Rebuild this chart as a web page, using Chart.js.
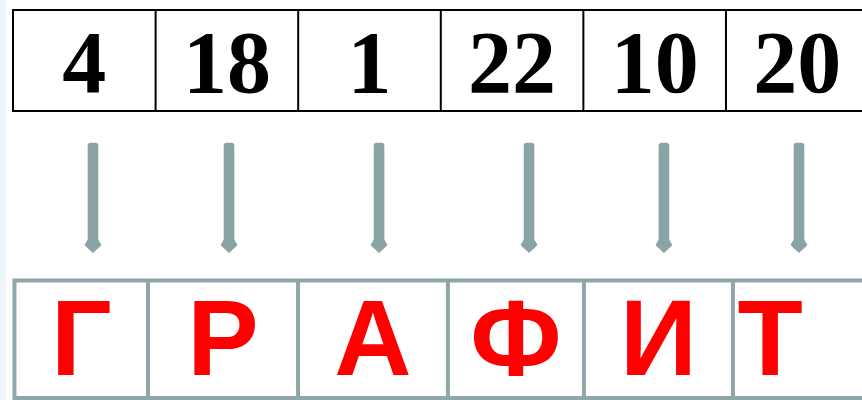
<!DOCTYPE html>
<html>
<head>
<meta charset="utf-8">
<script src="https://cdn.jsdelivr.net/npm/chart.js@4.4.1/dist/chart.umd.min.js"></script>
<style>
  html, body { margin: 0; padding: 0; background: #fff; }
  #wrap { width: 862px; height: 400px; }
</style>
</head>
<body>
<div id="wrap"><canvas id="cipher"></canvas></div>
<script>
const numbers = [4, 18, 1, 22, 10, 20];
const letters = ["Г", "Р", "А", "Ф", "И", "Т"];
// arrows sit a bit right of the cell centres (x in top-cell units)
const arrowX = [0.561, 1.515, 2.567, 3.619, 4.565, 5.512];
// the letter row is not as even as the number row
const letterEdges = [0.01, 0.947, 1.999, 3.05, 4.004, 5.049, 5.57];

const GRAY = "#8aa4a6";
const LINE_GRAY = "#90a7a9";

const tablePlugin = {
  id: "cipherTable",
  beforeDraw(chart) {
    const ctx = chart.ctx;
    ctx.save();
    ctx.fillStyle = "#fff";
    ctx.fillRect(0, 0, chart.width, chart.height);
    ctx.fillStyle = "#eef6f9";
    ctx.fillRect(0, 0, 6, chart.height);
    ctx.restore();
  },
  afterDatasetsDraw(chart) {
    const ctx = chart.ctx;
    const xs = chart.scales.x;
    const ys = chart.scales.y;
    const px = v => xs.getPixelForValue(v);
    const py = v => ys.getPixelForValue(v);
    const right = chart.chartArea.right;
    ctx.save();

    // arrow heads
    ctx.fillStyle = GRAY;
    ctx.strokeStyle = GRAY;
    ctx.lineWidth = 1;
    ctx.lineJoin = "round";
    arrowX.forEach(a => {
      const cx = px(a);
      ctx.beginPath();
      ctx.moveTo(cx - 5, py(240));
      ctx.lineTo(cx - 8, py(245));
      ctx.lineTo(cx, py(252.5));
      ctx.lineTo(cx + 8, py(245));
      ctx.lineTo(cx + 5, py(240));
      ctx.closePath();
      ctx.fill();
      ctx.stroke();
    });

    // number row
    ctx.strokeStyle = "#000";
    ctx.lineWidth = 2;
    ctx.beginPath();
    ctx.moveTo(px(0) - 1, py(10));
    ctx.lineTo(right, py(10));
    ctx.moveTo(px(0) - 1, py(111));
    ctx.lineTo(right, py(111));
    for (let i = 0; i < numbers.length; i++) {
      ctx.moveTo(px(i), py(10));
      ctx.lineTo(px(i), py(111));
    }
    ctx.stroke();

    ctx.fillStyle = "#000";
    ctx.font = "bold 88px 'Liberation Serif', 'Times New Roman', serif";
    ctx.textAlign = "center";
    ctx.textBaseline = "alphabetic";
    numbers.forEach((n, i) => {
      ctx.fillText(String(n), px(i + 0.5), py(92));
    });

    // letter row
    ctx.strokeStyle = LINE_GRAY;
    ctx.lineWidth = 4;
    ctx.beginPath();
    ctx.moveTo(px(letterEdges[0]) - 2, py(280.5));
    ctx.lineTo(right, py(280.5));
    ctx.moveTo(px(letterEdges[0]) - 2, py(398));
    ctx.lineTo(right, py(398));
    for (let i = 0; i < letters.length; i++) {
      ctx.moveTo(px(letterEdges[i]), py(280.5));
      ctx.lineTo(px(letterEdges[i]), py(400));
    }
    ctx.stroke();

    ctx.fillStyle = "#ff0000";
    ctx.font = "bold 107px 'Liberation Sans', Arial, sans-serif";
    letters.forEach((l, i) => {
      const mid = (letterEdges[i] + letterEdges[i + 1]) / 2;
      ctx.fillText(l, px(mid), py(375));
    });

    ctx.restore();
  }
};

new Chart(document.getElementById("cipher"), {
  type: "bar",
  data: {
    datasets: [{
      label: "arrows",
      data: arrowX.map(x => ({ x: x, y: [143, 244] })),
      backgroundColor: GRAY,
      barThickness: 10,
      borderRadius: 3,
      borderSkipped: false
    }]
  },
  options: {
    responsive: true,
    maintainAspectRatio: false,
    animation: false,
    layout: { padding: 0 },
    scales: {
      x: { type: "linear", offset: false, bounds: "ticks", min: -0.0912, max: 5.954, display: false },
      y: { type: "linear", min: 0, max: 400, reverse: true, display: false }
    },
    plugins: {
      legend: { display: false },
      tooltip: { enabled: false }
    }
  },
  plugins: [tablePlugin]
});
</script>
</body>
</html>
